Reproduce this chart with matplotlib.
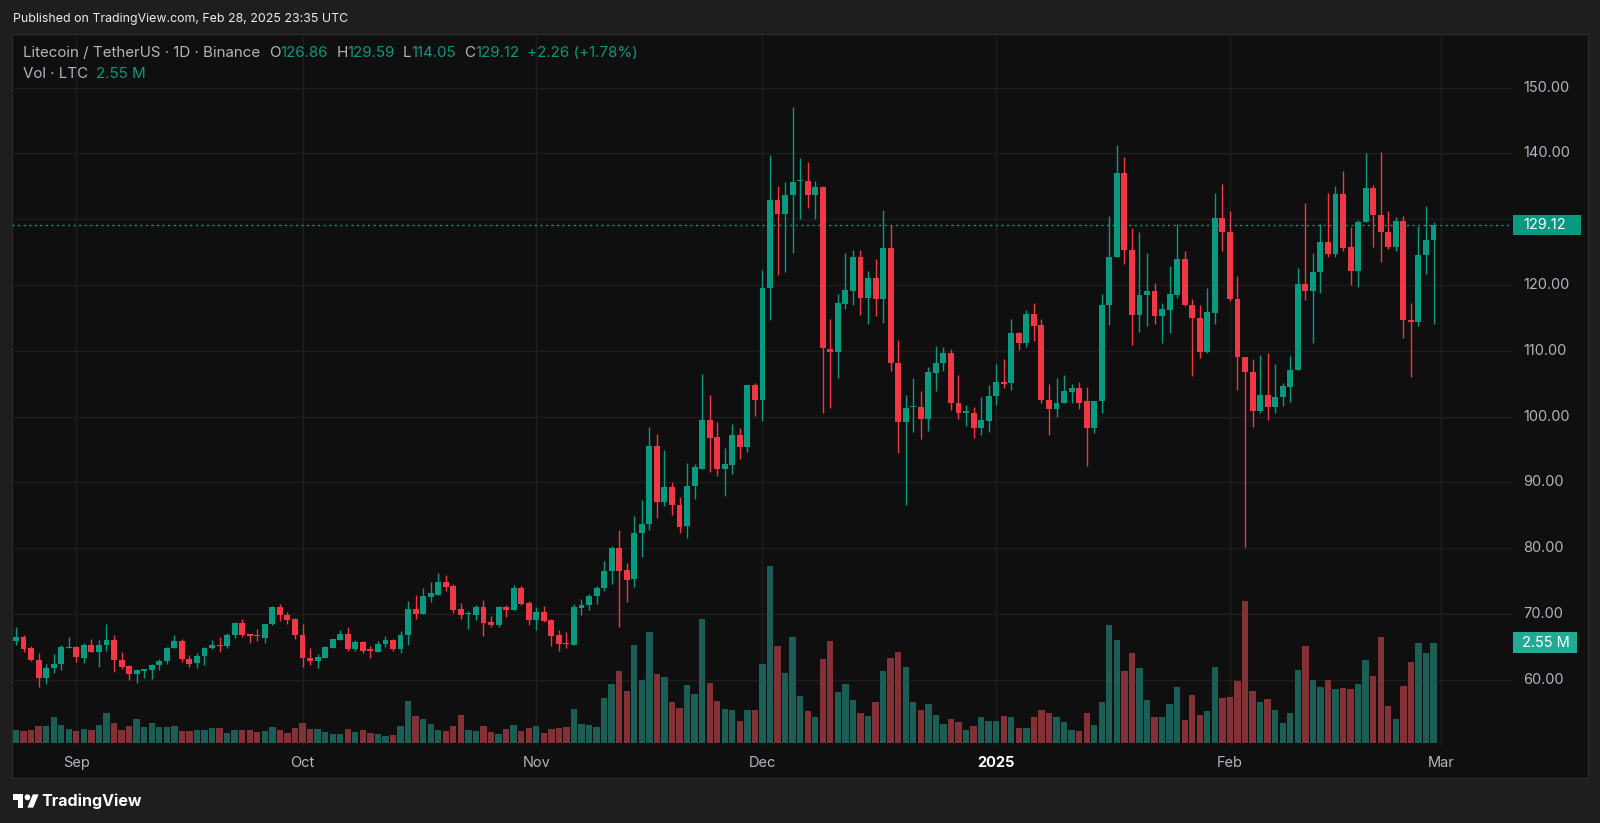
import numpy as np
import pandas as pd
import matplotlib
matplotlib.use("Agg")
import matplotlib.pyplot as plt
from matplotlib.patches import Rectangle, Circle, Polygon
from matplotlib.transforms import blended_transform_factory

plt.rcParams['font.family'] = ['Inter', 'DejaVu Sans']

# LTC/USDT daily candles, 2024-08-24 .. 2025-02-28
start_date = "2024-08-24"
opens = [65.96, 66.52, 64.75, 62.93, 60.30, 61.72, 62.32, 64.75, 64.95, 63.33,
         65.25, 64.24, 65.35, 66.06, 63.03, 62.07, 60.81, 61.40, 61.41, 62.17,
         62.83, 64.75, 65.86, 63.18, 62.57, 63.59, 64.75, 65.35, 65.10, 66.77,
         68.59, 66.97, 66.77, 66.36, 68.54, 71.11, 69.90, 69.24, 66.77, 63.33,
         62.83, 63.23, 64.75, 66.11, 67.02, 64.60, 65.70, 64.60, 64.20, 65.50,
         66.11, 64.60, 66.77, 70.81, 70.00, 72.58, 72.94, 74.81, 74.30, 70.76,
         70.00, 69.80, 71.06, 68.84, 68.28, 71.00, 70.56, 73.95, 71.67, 69.14,
         70.25, 69.04, 66.81, 65.60, 65.24, 70.90, 71.42, 72.68, 73.95, 76.48,
         80.00, 76.60, 75.30, 82.24, 83.64, 95.46, 87.03, 89.26, 86.58, 83.30,
         89.46, 92.00, 99.50, 96.90, 92.00, 92.60, 97.25, 95.30, 104.80, 102.55,
         119.50, 132.93, 130.76, 133.60, 135.75, 135.86, 133.69, 134.85, 110.30, 109.75,
         117.10, 119.05, 124.30, 117.97, 121.06, 117.80, 125.56, 108.20, 99.10, 101.40,
         101.40, 99.60, 106.60, 108.20, 109.67, 101.98, 100.57, 100.60, 98.30, 99.27,
         103.06, 105.20, 105.13, 112.62, 111.10, 115.60, 113.90, 102.55, 101.20, 102.00,
         103.80, 104.35, 102.40, 98.24, 102.30, 116.93, 124.30, 137.00, 125.38, 115.43,
         118.50, 119.00, 115.20, 116.20, 118.50, 123.90, 117.00, 115.00, 109.80, 115.80,
         130.10, 128.10, 117.90, 109.00, 106.80, 100.90, 103.33, 101.50, 103.00, 104.50,
         107.05, 120.20, 119.10, 121.90, 126.50, 124.70, 133.77, 125.70, 122.10, 129.50,
         134.80, 130.70, 128.00, 125.80, 129.70, 114.65, 114.40, 124.60, 126.86]
highs = [67.98, 66.77, 65.05, 63.99, 62.32, 63.84, 65.35, 66.46, 65.10, 65.60,
         66.26, 66.11, 68.54, 66.77, 64.19, 62.17, 61.57, 61.60, 62.32, 63.08,
         64.95, 66.77, 66.26, 63.69, 63.99, 64.95, 66.00, 66.46, 67.12, 68.84,
         69.30, 66.97, 67.73, 68.54, 71.26, 71.46, 70.25, 69.39, 68.54, 64.75,
         63.94, 65.10, 66.26, 67.53, 67.98, 66.11, 65.96, 65.10, 65.86, 66.60,
         66.26, 67.37, 71.92, 72.94, 73.95, 74.81, 76.18, 75.87, 74.56, 71.62,
         70.40, 71.32, 72.18, 69.65, 71.16, 71.42, 74.35, 74.30, 72.03, 71.00,
         71.16, 69.24, 67.62, 67.22, 71.57, 72.33, 73.04, 74.20, 78.10, 80.32,
         82.68, 77.80, 84.90, 87.35, 98.40, 97.38, 94.89, 90.10, 87.80, 92.90,
         92.78, 106.40, 103.20, 99.20, 95.20, 98.85, 98.20, 104.80, 105.05, 122.30,
         139.74, 135.10, 135.70, 147.10, 139.24, 138.64, 135.86, 135.10, 114.80, 118.60,
         124.85, 125.30, 125.30, 122.14, 123.90, 131.36, 129.08, 111.68, 103.28, 105.88,
         103.82, 107.50, 110.76, 110.60, 110.20, 106.30, 101.70, 101.50, 103.00, 104.80,
         108.05, 108.70, 114.84, 112.90, 116.20, 117.30, 114.84, 105.00, 105.85, 106.33,
         105.00, 105.30, 104.47, 102.43, 118.60, 130.47, 141.20, 139.46, 128.60, 128.00,
         124.80, 120.30, 117.20, 122.90, 129.20, 125.10, 117.90, 116.93, 119.50, 134.00,
         135.27, 131.20, 121.40, 109.00, 108.70, 109.30, 109.60, 108.00, 105.10, 109.14,
         122.50, 132.40, 124.90, 129.20, 133.90, 134.97, 137.36, 128.80, 129.80, 140.00,
         135.20, 140.20, 131.20, 130.30, 130.50, 117.30, 128.90, 132.00, 129.59]
lows = [65.35, 64.24, 62.83, 58.89, 59.39, 60.96, 61.46, 64.75, 62.73, 62.60,
        64.24, 61.97, 64.34, 61.16, 61.57, 59.90, 59.55, 60.30, 60.05, 61.50,
        62.32, 64.75, 62.73, 62.00, 61.80, 62.30, 64.60, 64.24, 64.75, 66.36,
        66.46, 65.60, 65.86, 65.60, 68.28, 68.99, 68.48, 66.26, 61.97, 62.17,
        61.82, 63.23, 64.75, 66.11, 64.44, 64.44, 64.10, 63.23, 64.20, 64.95,
        64.34, 64.10, 65.25, 69.29, 70.00, 71.82, 72.94, 73.54, 70.15, 69.24,
        67.70, 69.14, 66.60, 68.00, 67.97, 69.50, 70.56, 71.42, 68.28, 67.60,
        68.73, 65.14, 64.33, 64.84, 65.24, 69.90, 70.56, 71.52, 73.44, 74.57,
        67.99, 71.80, 74.10, 78.72, 82.75, 84.60, 86.40, 84.98, 82.24, 81.47,
        87.54, 92.00, 91.50, 90.90, 87.86, 91.30, 93.60, 94.57, 100.10, 99.30,
        114.60, 121.46, 121.90, 124.90, 130.05, 131.67, 130.05, 100.50, 101.26, 105.90,
        116.34, 117.00, 115.37, 114.12, 115.26, 114.20, 106.97, 94.50, 86.53, 97.60,
        96.56, 97.86, 103.90, 106.86, 101.00, 99.60, 98.56, 96.67, 97.20, 97.60,
        101.80, 104.40, 104.10, 110.04, 110.50, 111.50, 102.00, 97.20, 99.90, 102.00,
        102.10, 101.20, 92.55, 97.50, 100.60, 113.94, 124.30, 123.20, 110.94, 112.80,
        113.70, 114.10, 111.24, 112.70, 118.00, 116.80, 106.15, 108.90, 109.60, 114.10,
        125.20, 117.60, 104.05, 80.10, 98.36, 100.50, 99.40, 100.50, 101.65, 102.25,
        107.05, 117.70, 111.24, 118.80, 124.30, 124.30, 125.10, 120.00, 119.70, 129.50,
        125.70, 123.50, 125.50, 125.10, 112.00, 106.00, 113.80, 121.70, 114.05]
closes = [66.52, 64.70, 62.93, 60.30, 61.72, 62.42, 64.90, 64.95, 63.48, 65.25,
          64.24, 65.35, 66.06, 62.93, 61.92, 60.81, 61.41, 61.60, 62.17, 62.83,
          64.75, 65.86, 63.08, 62.42, 63.59, 64.75, 65.35, 65.10, 66.77, 68.59,
          66.77, 66.67, 66.57, 68.54, 71.11, 69.80, 69.14, 66.77, 63.33, 62.83,
          63.43, 64.95, 66.21, 67.02, 64.60, 65.70, 64.44, 64.34, 65.50, 66.11,
          64.60, 66.77, 70.80, 70.00, 72.78, 73.14, 74.81, 74.10, 70.56, 69.80,
          70.15, 71.06, 68.68, 68.28, 71.00, 70.56, 73.95, 71.52, 69.14, 70.25,
          68.99, 66.66, 65.44, 65.44, 71.00, 71.42, 72.78, 73.95, 76.48, 80.00,
          76.50, 75.20, 82.36, 83.64, 95.46, 87.03, 89.26, 86.50, 83.20, 89.46,
          92.27, 99.50, 96.80, 92.10, 92.80, 97.25, 95.30, 104.80, 102.55, 119.50,
          132.90, 130.76, 133.60, 135.70, 135.90, 133.69, 134.85, 110.35, 109.75, 117.27,
          119.16, 124.30, 117.97, 121.06, 117.80, 125.56, 108.20, 99.10, 101.27, 101.55,
          99.60, 106.70, 108.20, 109.67, 101.98, 100.46, 100.79, 98.30, 99.40, 103.17,
          105.20, 105.00, 112.62, 111.10, 115.60, 113.80, 102.55, 101.20, 102.10, 103.87,
          104.40, 102.13, 98.24, 102.43, 116.93, 124.30, 137.00, 125.38, 115.43, 118.50,
          119.00, 115.20, 116.33, 118.60, 123.90, 117.00, 114.90, 109.80, 115.90, 130.10,
          128.00, 117.90, 109.00, 106.80, 100.90, 103.33, 101.50, 103.00, 104.65, 107.10,
          120.20, 119.10, 121.90, 126.50, 124.70, 133.77, 125.60, 122.10, 129.60, 134.80,
          130.70, 128.00, 125.80, 129.70, 114.65, 114.40, 124.60, 126.86, 129.12]
# volume in millions of LTC
volumes = [0.32, 0.30, 0.34, 0.42, 0.42, 0.67, 0.47, 0.36, 0.30, 0.36,
           0.34, 0.47, 0.76, 0.52, 0.34, 0.42, 0.62, 0.41, 0.52, 0.41,
           0.41, 0.44, 0.31, 0.31, 0.33, 0.34, 0.38, 0.38, 0.25, 0.32,
           0.32, 0.32, 0.29, 0.31, 0.41, 0.34, 0.25, 0.38, 0.51, 0.36,
           0.36, 0.27, 0.24, 0.24, 0.36, 0.27, 0.33, 0.25, 0.24, 0.19,
           0.21, 0.42, 1.07, 0.69, 0.61, 0.49, 0.32, 0.31, 0.42, 0.72,
           0.32, 0.30, 0.44, 0.29, 0.22, 0.36, 0.46, 0.31, 0.39, 0.42,
           0.25, 0.36, 0.39, 0.41, 0.87, 0.49, 0.45, 0.41, 1.14, 1.51,
           1.84, 1.32, 2.48, 1.60, 2.82, 1.76, 1.68, 1.04, 0.90, 1.47,
           1.25, 3.15, 1.52, 1.06, 0.87, 0.85, 0.56, 0.84, 0.85, 2.00,
           4.49, 2.47, 1.78, 2.69, 1.20, 0.82, 0.67, 2.14, 2.59, 1.29,
           1.51, 1.08, 0.75, 0.69, 1.04, 1.83, 2.17, 2.32, 1.93, 1.04,
           0.83, 0.98, 0.72, 0.48, 0.61, 0.54, 0.34, 0.42, 0.67, 0.55,
           0.57, 0.69, 0.65, 0.38, 0.38, 0.67, 0.85, 0.75, 0.67, 0.53,
           0.32, 0.30, 0.77, 0.45, 1.03, 2.99, 2.61, 1.84, 2.29, 1.91,
           1.10, 0.65, 0.67, 1.00, 1.41, 0.58, 1.22, 0.70, 0.82, 1.93,
           1.15, 1.18, 1.58, 3.61, 1.31, 1.05, 1.12, 0.85, 0.50, 0.76,
           1.86, 2.47, 1.61, 1.41, 1.59, 1.36, 1.39, 1.36, 1.51, 2.10,
           1.69, 2.68, 0.95, 0.60, 1.45, 2.06, 2.54, 2.28, 2.55]

tick_dates = ["2024-09-01", "2024-10-01", "2024-11-01", "2024-12-01",
              "2025-01-01", "2025-02-01", "2025-03-01"]
tick_labels = ["Sep", "Oct", "Nov", "Dec", "2025", "Feb", "Mar"]
price_ticks = [60, 70, 80, 90, 100, 110, 120, 130, 140, 150]

BG_OUT = "#1e1e1e"
BG = "#0f0f0f"
UP = "#089981"
DOWN = "#f23645"
VUP = "#1b5e56"
VDOWN = "#833037"
GRID = "#1e1e1e"
TXT = "#b2b5be"

W, H = 1600, 823
fig = plt.figure(figsize=(W / 100, H / 100), dpi=100, facecolor=BG_OUT)

def fx(px):
    return px / W

def fy(py):
    return 1 - py / H

o = np.array(opens)
h = np.array(highs)
l = np.array(lows)
c = np.array(closes)
v = np.array(volumes)
x = np.arange(len(o))
dates = pd.date_range(start_date, periods=len(o), freq="D")
tick_x = (pd.to_datetime(tick_dates) - dates[0]).days.values
up = c >= o

# chart panel (behind the axes)
fig.patches.append(Rectangle((fx(12), fy(778)), fx(1576), 744 / H, transform=fig.transFigure,
                             facecolor=BG, edgecolor="#2b2b2b", linewidth=1, zorder=-5))

rect = [fx(12), fy(745), fx(1500), 710 / H]
xlim = ((12 - 16) / 7.54, (1512 - 16) / 7.54)

ax = fig.add_axes(rect)
ax.patch.set_alpha(0)
ax.set_xlim(*xlim)
ax.set_ylim(50.08, 157.98)
for s in ax.spines.values():
    s.set_visible(False)
ax.set_xticks([])
ax.set_yticks([])

for p in price_ticks:
    ax.axhline(p, color=GRID, linewidth=1, zorder=0)
for t in tick_x:
    ax.axvline(t, color=GRID, linewidth=1, zorder=0)

# volume pane (drawn on its own scale)
vax = fig.add_axes(rect)
vax.patch.set_alpha(0)
vax.set_xlim(*xlim)
vax.set_ylim(-0.05, 17.97)
vax.axis("off")
vax.bar(x, v, width=0.84, color=np.where(up, VUP, VDOWN), linewidth=0)

# candles on top
cax = fig.add_axes(rect)
cax.patch.set_alpha(0)
cax.set_xlim(*xlim)
cax.set_ylim(50.08, 157.98)
cax.axis("off")
cols = np.where(up, UP, DOWN)
cax.vlines(x, l, h, colors=cols, linewidth=1)
body_lo = np.minimum(o, c)
body_h = np.maximum(np.abs(c - o), 0.15)
cax.bar(x, body_h, bottom=body_lo, width=0.78, color=cols, linewidth=0)
cax.axhline(c[-1], color=UP, linewidth=1, linestyle=(0, (1.5, 2.5)))

# price scale labels (the one under the last-price tag is hidden)
bt = blended_transform_factory(fig.transFigure, cax.transData)
for p in price_ticks:
    if abs(p - c[-1]) < 2.5:
        continue
    cax.text(fx(1523), p, f"{p:.2f}", transform=bt, color=TXT, fontsize=10.5,
             va="center", ha="left", clip_on=False)
cax.add_patch(Rectangle((fx(1513), c[-1] - 1.55), fx(68), 3.1, transform=bt,
                        facecolor=UP, edgecolor="none", clip_on=False))
cax.text(fx(1523), c[-1], f"{c[-1]:.2f}", transform=bt, color="white", fontsize=10.5,
         va="center", ha="left", clip_on=False)

vbt = blended_transform_factory(fig.transFigure, vax.transData)
vax.add_patch(Rectangle((fx(1513), v[-1] - 0.27), fx(64), 0.54, transform=vbt,
                        facecolor="#22ab94", edgecolor="none", clip_on=False))
vax.text(fx(1522), v[-1], f"{v[-1]:.2f} M", transform=vbt, color="white", fontsize=10.5,
         va="center", ha="left", clip_on=False)

# time scale labels
xbt = blended_transform_factory(cax.transData, fig.transFigure)
for t, lab in zip(tick_x, tick_labels):
    bold = lab.isdigit()
    cax.text(t, fy(763), lab, transform=xbt, color="white" if bold else TXT,
             fontsize=10.5, fontweight="bold" if bold else "normal",
             ha="center", va="center", clip_on=False)

# header texts
fig.text(fx(13), fy(19), "Published on TradingView.com, Feb 28, 2025 23:35 UTC",
         color="#ececec", fontsize=8.9, va="center", ha="left")

renderer = fig.canvas.get_renderer()

def write_row(x0, y0, parts):
    xpos = x0
    for txt, col, gap in parts:
        t = fig.text(fx(xpos), fy(y0), txt, color=col, fontsize=10.9, va="center", ha="left")
        bb = t.get_window_extent(renderer=renderer)
        xpos = bb.x1 + gap

write_row(23, 53, [("Litecoin / TetherUS · 1D · Binance", TXT, 9),
                   ("O", TXT, 0), ("126.86", UP, 8),
                   ("H", TXT, 0), ("129.59", UP, 8),
                   ("L", TXT, 0), ("114.05", UP, 8),
                   ("C", TXT, 0), ("129.12", UP, 8),
                   ("+2.26 (+1.78%)", UP, 0)])
write_row(23, 74.5, [("Vol · LTC", TXT, 8), ("2.55 M", UP, 0)])

# TradingView logo
lax = fig.add_axes([fx(13), fy(808), fx(26), 14 / H])
lax.set_xlim(0, 36)
lax.set_ylim(22.5, 3.5)
lax.axis("off")
lax.add_patch(Polygon([(0, 4), (14, 4), (14, 22), (7, 22), (7, 11), (0, 11)], closed=True,
                      facecolor="white", edgecolor="none"))
lax.add_patch(Circle((20, 8), 4, facecolor="white", edgecolor="none"))
lax.add_patch(Polygon([(20, 22), (28, 22), (35.5, 4), (27.5, 4)], closed=True,
                      facecolor="white", edgecolor="none"))
fig.text(fx(41), fy(801), "TradingView", color="white", fontsize=11.5,
         fontweight="bold", va="center", ha="left")

fig.savefig("out.png", dpi=100, facecolor=BG_OUT)
